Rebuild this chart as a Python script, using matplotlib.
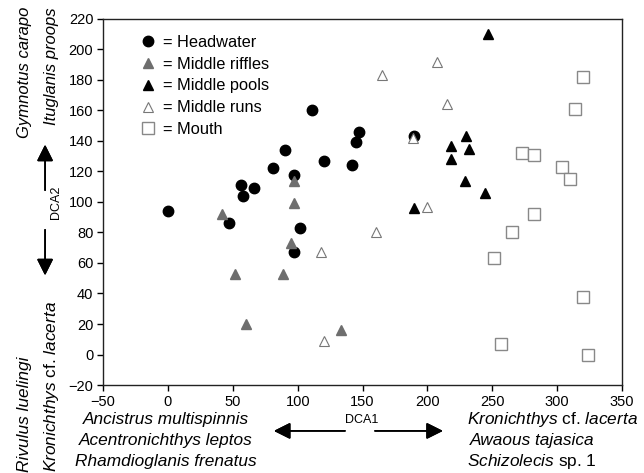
import matplotlib.pyplot as plt

plt.rcParams['font.family'] = ['Liberation Sans', 'DejaVu Sans']
plt.rcParams['mathtext.fontset'] = 'custom'
plt.rcParams['mathtext.rm'] = 'Liberation Sans'
plt.rcParams['mathtext.it'] = 'Liberation Sans:italic'

# DCA scores, per habitat group
head_x = [0, 47, 56, 58, 66, 81, 90, 97, 97, 102, 111, 120, 142, 145, 147, 190]
head_y = [94, 86, 111, 104, 109, 122, 134, 118, 67, 83, 160, 127, 124, 139, 146, 143]

riffle_x = [42, 97, 97, 95, 52, 89, 60, 133]
riffle_y = [92, 114, 99, 73, 53, 53, 20, 16]

pool_x = [247, 230, 218, 232, 218, 229, 244, 190]
pool_y = [210, 143, 137, 135, 128, 114, 106, 96]

run_x = [165, 207, 215, 189, 200, 160, 118, 120]
run_y = [183, 192, 164, 142, 97, 80, 67, 9]

mouth_x = [320, 314, 273, 282, 304, 310, 282, 265, 251, 320, 257, 324]
mouth_y = [182, 161, 132, 131, 123, 115, 92, 80, 63, 38, 7, 0]

fig = plt.figure(figsize=(6.44, 4.73), dpi=100)
ax = fig.add_axes([0.16, 0.186, 0.806, 0.774])

ax.plot(head_x, head_y, 'o', color='black', ms=7.5, ls='none', label='= Headwater')
ax.plot(riffle_x, riffle_y, '^', color='#6e6e6e', ms=6.5, ls='none', label='= Middle riffles')
ax.plot(pool_x, pool_y, '^', color='black', ms=6.5, ls='none', label='= Middle pools')
ax.plot(run_x, run_y, '^', mfc='white', mec='#777777', mew=0.8, ms=7, ls='none', label='= Middle runs')
ax.plot(mouth_x, mouth_y, 's', mfc='white', mec='#888888', mew=1.0, ms=8, ls='none', label='= Mouth')

ax.set_xlim(-50, 350)
ax.set_ylim(-20, 220)
ax.set_xticks(range(-50, 351, 50))
ax.set_yticks(range(-20, 221, 20))
ax.tick_params(labelsize=10.5, direction='out', length=4, width=1, colors='black', pad=3)
for s in ax.spines.values():
    s.set_linewidth(1)
    s.set_color('#222222')

leg = ax.legend(loc='upper left', frameon=False, fontsize=11.8, handletextpad=0.3,
                handlelength=1.2, labelspacing=0.42, borderaxespad=0.0,
                bbox_to_anchor=(0.055, 0.975))

# species annotations along the axes
sp = 12.4
fig.text(0.038, 0.985, 'Gymnotus carapo', rotation=90, style='italic', fontsize=12, ha='center', va='top')
fig.text(0.08, 0.985, 'Ituglanis proops', rotation=90, style='italic', fontsize=12, ha='center', va='top')
fig.text(0.038, 0.002, 'Rivulus luelingi', rotation=90, style='italic', fontsize=sp, ha='center', va='bottom')
fig.text(0.08, 0.002, r'$\it{Kronichthys}$ cf. $\it{lacerta}$', rotation=90, fontsize=sp,
         ha='center', va='bottom')

fig.text(0.257, 0.113, 'Ancistrus multispinnis', style='italic', fontsize=sp, ha='center', va='center')
fig.text(0.257, 0.069, 'Acentronichthys leptos', style='italic', fontsize=sp, ha='center', va='center')
fig.text(0.257, 0.025, 'Rhamdioglanis frenatus', style='italic', fontsize=sp, ha='center', va='center')

fig.text(0.725, 0.113, r'$\it{Kronichthys}$ cf. $\it{lacerta}$', fontsize=sp, ha='left', va='center')
fig.text(0.73, 0.069, 'Awaous tajasica', style='italic', fontsize=sp, ha='left', va='center')
fig.text(0.725, 0.025, r'$\it{Schizolecis}$ sp. 1', fontsize=sp, ha='left', va='center')

# DCA axis arrows
arr = dict(arrowstyle='-|>,head_length=1.0,head_width=0.5', color='black', lw=1.2)
fig.text(0.562, 0.112, 'DCA1', fontsize=9, ha='center', va='center')
fig.add_artist(plt.annotate('', xy=(0.421, 0.089), xytext=(0.54, 0.089),
                            xycoords='figure fraction', arrowprops=arr))
fig.add_artist(plt.annotate('', xy=(0.692, 0.089), xytext=(0.578, 0.089),
                            xycoords='figure fraction', arrowprops=arr))

fig.text(0.087, 0.573, 'DCA2', fontsize=9, rotation=90, ha='center', va='center')
fig.add_artist(plt.annotate('', xy=(0.07, 0.70), xytext=(0.07, 0.592),
                            xycoords='figure fraction', arrowprops=arr))
fig.add_artist(plt.annotate('', xy=(0.07, 0.412), xytext=(0.07, 0.52),
                            xycoords='figure fraction', arrowprops=arr))

fig.savefig('out.png', dpi=100)
